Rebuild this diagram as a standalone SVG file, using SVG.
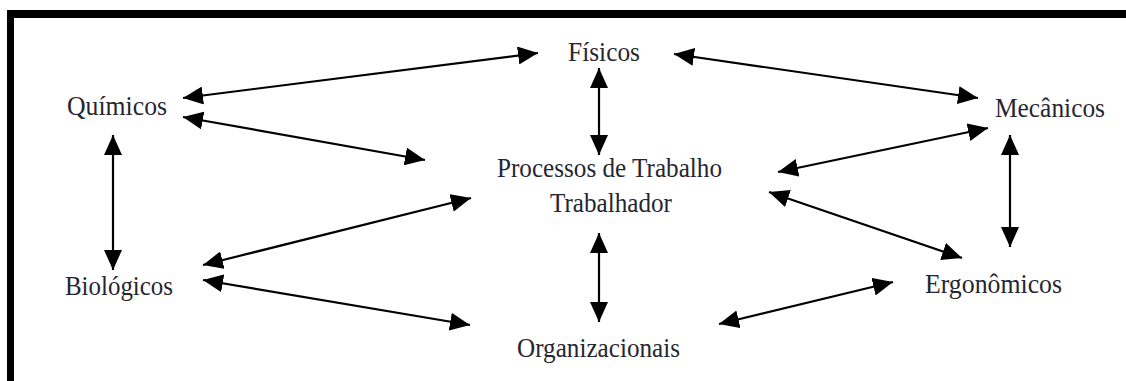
<svg xmlns="http://www.w3.org/2000/svg" width="1126" height="381" viewBox="0 0 1126 381">
<style>
.lbl{font-family:"Liberation Serif","Times New Roman",serif;font-size:27px;fill:#262630;text-anchor:start}
.c{stroke:#000;stroke-width:2.2;fill:none;marker-start:url(#ah);marker-end:url(#ah)}
</style>
<defs>
<marker id="ah" viewBox="0 0 20 18" refX="20" refY="9" markerWidth="20" markerHeight="18" markerUnits="userSpaceOnUse" orient="auto-start-reverse">
<path d="M0,0 L20,9 L0,18 z" fill="#000"/>
</marker>
</defs>
<rect width="1126" height="381" fill="#fff"/>
<g id="frame" fill="#000">
<rect x="7" y="10" width="1119" height="8"/>
<rect x="7" y="10" width="7" height="371"/>
</g>
<g id="connectors">
<line class="c" x1="183" y1="98" x2="538" y2="53"/>
<line class="c" x1="183" y1="117" x2="425" y2="160"/>
<line class="c" x1="599" y1="68" x2="599" y2="155"/>
<line class="c" x1="674" y1="54" x2="978" y2="98"/>
<line class="c" x1="778" y1="172" x2="988" y2="128"/>
<line class="c" x1="769" y1="192" x2="962" y2="258"/>
<line class="c" x1="1010" y1="135" x2="1010" y2="247"/>
<line class="c" x1="113" y1="135" x2="113" y2="270"/>
<line class="c" x1="203" y1="265" x2="471" y2="198"/>
<line class="c" x1="203" y1="280" x2="470" y2="325"/>
<line class="c" x1="599" y1="233" x2="599" y2="322"/>
<line class="c" x1="719" y1="324" x2="893" y2="282"/>
</g>
<g id="fisicos"><text class="lbl" x="568" y="61" textLength="72" lengthAdjust="spacingAndGlyphs">Físicos</text></g>
<g id="quimicos"><text class="lbl" x="67" y="115" textLength="100" lengthAdjust="spacingAndGlyphs">Químicos</text></g>
<g id="mecanicos"><text class="lbl" x="995" y="117" textLength="110" lengthAdjust="spacingAndGlyphs">Mecânicos</text></g>
<g id="processos"><text class="lbl" x="497" y="177" textLength="225" lengthAdjust="spacingAndGlyphs">Processos de Trabalho</text><text class="lbl" x="550" y="212" textLength="122" lengthAdjust="spacingAndGlyphs">Trabalhador</text></g>
<g id="biologicos"><text class="lbl" x="65" y="295" textLength="108" lengthAdjust="spacingAndGlyphs">Biológicos</text></g>
<g id="organizacionais"><text class="lbl" x="517" y="357" textLength="163" lengthAdjust="spacingAndGlyphs">Organizacionais</text></g>
<g id="ergonomicos"><text class="lbl" x="925" y="293" textLength="137" lengthAdjust="spacingAndGlyphs">Ergonômicos</text></g>
</svg>
